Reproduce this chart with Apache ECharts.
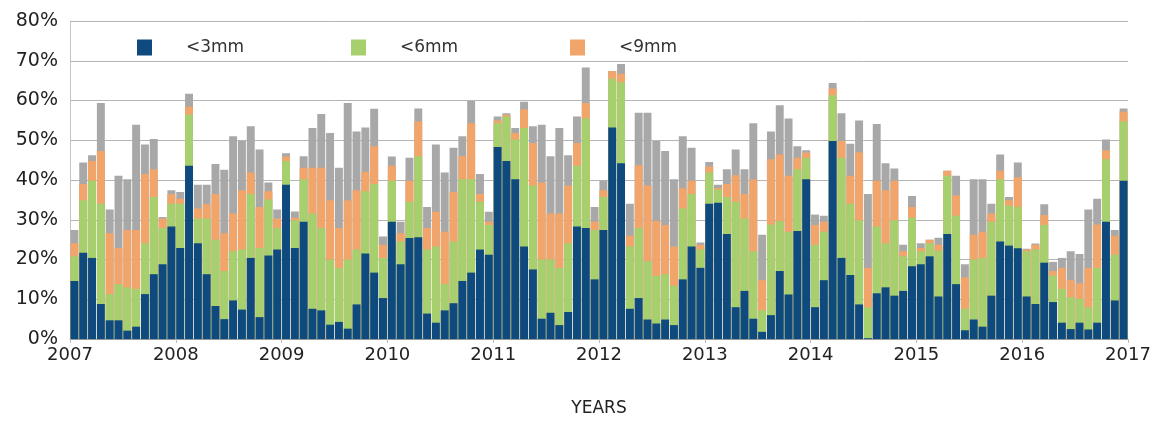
<!DOCTYPE html>
<html>
<head>
<meta charset="utf-8">
<script src="https://cdn.jsdelivr.net/npm/echarts@6/dist/echarts.min.js"></script>
<style>
html,body{margin:0;padding:0;background:#fff;}
#chart{width:1168px;height:422px;}
</style>
</head>
<body>
<div id="chart"></div>
<script>
// Tick labels
var years = ['2007','2008','2009','2010','2011','2012','2013','2014','2015','2016','2017'];
var monthNames = ['01','02','03','04','05','06','07','08','09','10','11','12'];
var seriesNames = ['<3mm', '<6mm', '<9mm', 'total'];

// Cumulative share (%) of each month
var lt3 = [
  14.6, 21.7, 20.4, 8.8, 4.7, 4.7, 2.1, 3.1, 11.3, 16.3, 18.8, 28.3,
  22.9, 43.6, 24.1, 16.3, 8.3, 5.0, 9.7, 7.4, 20.4, 5.5, 21.0, 22.5,
  38.8, 22.9, 29.5, 7.6, 7.2, 3.6, 4.3, 2.6, 8.7, 21.5, 16.7, 10.3,
  29.5, 18.8, 25.4, 25.6, 6.4, 4.1, 7.2, 9.0, 14.6, 16.7, 22.5, 21.2,
  48.3, 44.8, 40.2, 23.3, 17.5, 5.1, 6.6, 3.5, 6.8, 28.3, 27.9, 15.0,
  27.4, 53.2, 44.2, 7.6, 10.3, 4.9, 3.9, 4.9, 3.5, 15.0, 23.3, 17.9,
  34.0, 34.3, 26.4, 8.0, 12.1, 5.1, 1.8, 6.0, 17.1, 11.2, 27.2, 40.2,
  8.0, 14.8, 49.8, 20.4, 16.1, 8.7, 0.2, 11.5, 13.0, 10.9, 12.1, 18.3,
  18.8, 20.8, 10.7, 26.4, 13.8, 2.2, 4.9, 3.1, 10.9, 24.5, 23.5, 22.8,
  10.7, 8.8, 19.2, 9.3, 4.1, 2.5, 4.1, 2.4, 4.1, 29.5, 9.7, 39.8
];
var lt6 = [
  20.8, 34.9, 39.8, 34.0, 11.3, 13.8, 13.0, 12.6, 24.1, 35.7, 27.9, 34.0,
  34.0, 56.4, 30.3, 30.3, 25.0, 17.1, 22.1, 22.5, 36.5, 22.9, 35.1, 27.9,
  44.8, 29.9, 40.2, 31.6, 27.9, 20.0, 17.9, 20.0, 22.5, 37.2, 39.0, 20.4,
  39.8, 24.5, 34.5, 46.0, 22.5, 23.3, 13.8, 24.5, 40.2, 40.2, 34.5, 28.7,
  54.3, 56.0, 50.2, 53.1, 38.6, 20.0, 20.0, 17.9, 24.1, 43.6, 55.5, 27.4,
  35.7, 65.5, 64.6, 23.3, 27.9, 19.6, 15.9, 16.3, 13.4, 32.8, 36.5, 22.5,
  41.9, 37.6, 35.7, 34.5, 30.3, 22.1, 7.2, 28.8, 29.7, 27.0, 42.7, 45.6,
  23.7, 27.0, 61.3, 45.6, 34.0, 29.9, 8.0, 28.3, 24.1, 29.9, 20.8, 30.5,
  22.1, 24.1, 22.2, 41.1, 31.0, 7.6, 20.0, 20.4, 29.5, 40.2, 33.6, 33.2,
  22.1, 22.5, 28.7, 15.9, 12.6, 10.5, 10.1, 8.0, 17.9, 45.2, 21.2, 54.7
];
var lt9 = [
  24.1, 39.0, 44.8, 47.3, 26.6, 22.9, 27.4, 27.4, 41.5, 42.7, 30.3, 36.5,
  35.3, 58.4, 32.8, 33.9, 36.5, 26.6, 31.6, 37.4, 41.9, 33.2, 37.2, 30.3,
  45.9, 30.5, 43.1, 43.1, 43.1, 34.9, 27.9, 34.9, 37.4, 42.1, 48.5, 23.7,
  43.6, 26.6, 39.8, 54.7, 27.9, 32.0, 27.0, 37.0, 46.0, 54.3, 36.5, 29.5,
  55.0, 56.4, 51.8, 57.8, 49.3, 39.4, 31.6, 31.6, 38.6, 49.3, 59.4, 29.5,
  37.4, 67.4, 66.7, 26.0, 43.7, 38.6, 29.7, 28.7, 23.3, 37.9, 39.8, 23.7,
  43.4, 38.0, 39.0, 41.2, 36.5, 40.1, 14.8, 45.2, 46.4, 41.1, 45.6, 46.9,
  28.7, 29.5, 63.0, 49.8, 41.1, 47.0, 17.9, 39.8, 37.4, 39.8, 22.1, 33.2,
  22.9, 25.0, 23.7, 42.3, 36.1, 15.5, 26.2, 27.0, 31.6, 42.3, 34.9, 40.7,
  22.5, 23.7, 31.2, 17.1, 17.9, 14.8, 14.0, 17.9, 28.8, 47.5, 26.0, 57.2
];
var total = [
  27.4, 44.4, 46.2, 59.4, 32.6, 41.1, 40.2, 53.9, 48.9, 50.3, 30.7, 37.4,
  37.0, 61.7, 38.8, 38.8, 44.0, 42.6, 51.0, 49.8, 53.5, 47.7, 39.4, 32.6,
  46.7, 32.1, 46.0, 53.1, 56.6, 51.8, 43.1, 59.4, 52.2, 53.2, 57.9, 25.8,
  45.9, 29.5, 45.6, 58.0, 33.2, 48.9, 41.9, 48.1, 51.0, 59.9, 41.5, 32.0,
  56.0, 56.8, 53.1, 59.7, 53.5, 53.9, 46.0, 53.1, 46.2, 56.0, 68.3, 33.2,
  39.8, 67.4, 69.2, 34.0, 56.9, 56.9, 49.8, 47.3, 40.2, 51.0, 48.1, 24.3,
  44.5, 38.8, 42.7, 47.7, 42.7, 54.3, 26.2, 52.2, 58.8, 55.5, 48.5, 47.5,
  31.3, 31.0, 64.4, 56.8, 49.1, 55.0, 36.5, 54.1, 44.2, 42.9, 23.7, 36.0,
  24.1, 25.0, 25.5, 42.3, 41.1, 18.8, 40.2, 40.2, 34.0, 46.4, 35.7, 44.4,
  22.7, 24.0, 33.9, 19.4, 20.4, 22.1, 21.4, 32.6, 35.3, 50.2, 27.4, 58.0
];

var categories = [];
for (var y = 0; y < years.length - 1; y++) {
  for (var m = 0; m < monthNames.length; m++) categories.push(years[y] + '-' + monthNames[m]);
}

var colors = {'<3mm': '#0e4a7e', '<6mm': '#a6cf6e', '<9mm': '#f1a56a', 'total': '#a8a8a8'};
var FONT = 'DejaVu Sans';

function barSeries(name, data, z) {
  return {
    name: name, type: 'bar', data: data,
    xAxisIndex: 0, yAxisIndex: 0,
    barGap: '-100%', barCategoryGap: '10%',
    itemStyle: {color: colors[name]},
    z: z, silent: true, animation: false
  };
}

function legendAt(name, left) {
  return {
    data: [name], left: left, top: 34,
    itemWidth: 15, itemHeight: 16, icon: 'rect',
    selectedMode: false,
    textStyle: {fontFamily: FONT, fontSize: 17, color: '#333', padding: [0, 0, 0, 29]}
  };
}

var chart = echarts.init(document.getElementById('chart'), null, {renderer: 'canvas'});
chart.setOption({
  animation: false,
  backgroundColor: '#fff',
  grid: {left: 70, right: 40, top: 21, bottom: 78, containLabel: false},
  legend: [legendAt('<3mm', 132), legendAt('<6mm', 346), legendAt('<9mm', 565)],
  xAxis: [
    {
      type: 'category', data: categories, position: 'bottom',
      axisLine: {show: true, lineStyle: {color: '#999', width: 1}},
      axisTick: {show: false}, axisLabel: {show: false}, splitLine: {show: false}
    },
    {
      type: 'value', min: 0, max: years.length - 1, interval: 1, position: 'bottom',
      axisLine: {show: false},
      axisTick: {show: true, length: 4, lineStyle: {color: '#bbb'}},
      splitLine: {show: false},
      axisLabel: {
        margin: 7, fontFamily: FONT, fontSize: 18, color: '#222',
        formatter: function (v) { return years[Math.round(v)]; }
      },
      name: 'YEARS', nameLocation: 'middle', nameGap: 61,
      nameTextStyle: {fontFamily: FONT, fontSize: 17, color: '#222'}
    }
  ],
  yAxis: {
    type: 'value', min: 0, max: 80, interval: 10,
    axisLine: {show: true, lineStyle: {color: '#c4c4c4'}},
    axisTick: {show: false},
    splitLine: {show: true, lineStyle: {color: '#b5b5b5', width: 1}},
    axisLabel: {formatter: '{value}%', fontFamily: FONT, fontSize: 19, color: '#222', margin: 12}
  },
  series: [
    barSeries('total', total, 1),
    barSeries('<9mm', lt9, 2),
    barSeries('<6mm', lt6, 3),
    barSeries('<3mm', lt3, 4)
  ]
});
</script>
</body>
</html>
